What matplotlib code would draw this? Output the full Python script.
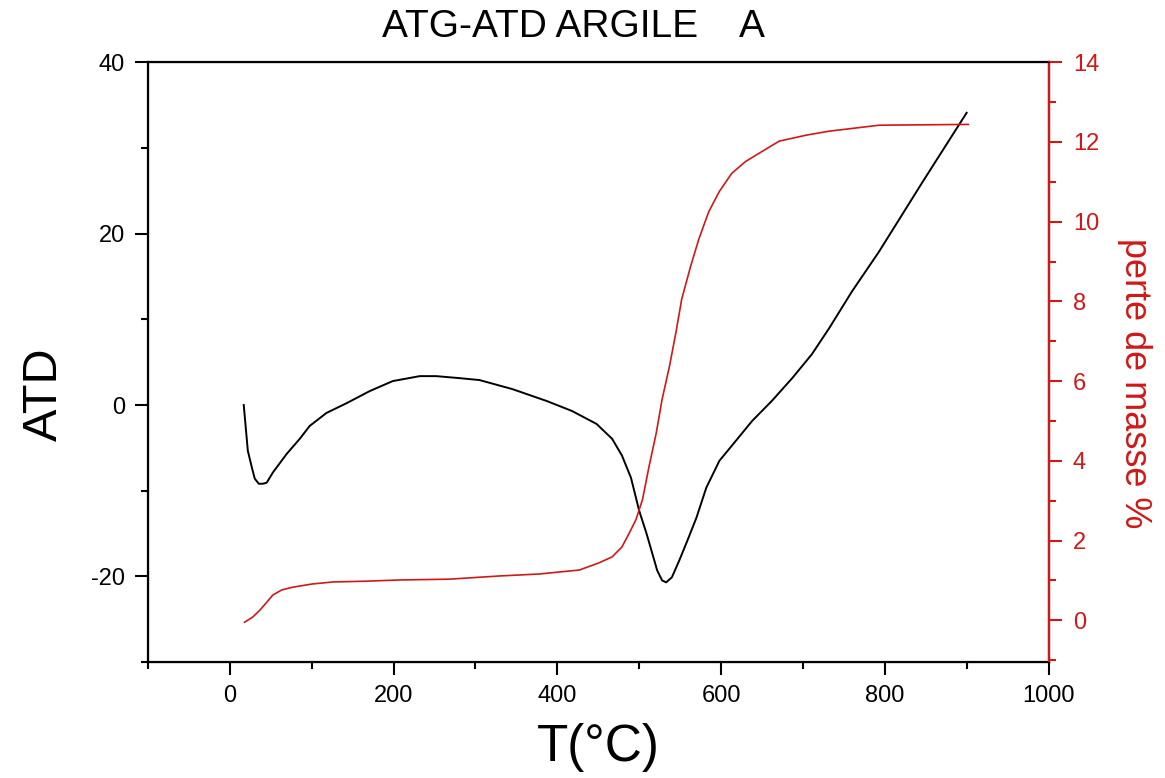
import matplotlib
matplotlib.use('Agg')
import matplotlib.pyplot as plt
from matplotlib.ticker import MultipleLocator

plt.rcParams['font.family'] = ['Liberation Sans', 'DejaVu Sans']
plt.rcParams['axes.unicode_minus'] = False

# ATD curve (black, left axis)
t_atd = [17, 19.5, 22, 27, 30.5, 35.4, 40.2, 45, 52.4, 69.5, 85.4, 97.6, 118, 143,
         171, 199, 232, 252, 280, 305, 345, 387, 418, 448, 467, 479,
         490, 500, 509, 515, 522, 528, 533, 540,
         549, 559, 570, 582, 598, 618, 638, 662, 687, 711, 732, 760, 793, 846, 900]
atd = [0.0, -2.67, -5.35, -7.33, -8.6, -9.19, -9.19, -9.07, -7.9, -5.7, -3.95, -2.44, -0.93, 0.23,
       1.63, 2.79, 3.37, 3.37, 3.14, 2.91, 1.86, 0.47, -0.70, -2.21, -3.95, -5.9,
       -8.49, -12.33, -15.0, -16.98, -19.3, -20.47, -20.7, -20.1,
       -18.14, -15.8, -13.14, -9.65, -6.51, -4.19, -1.86, 0.47, 3.14, 5.93, 8.95, 13.26, 17.9, 26.0, 34.1]

# perte de masse (red, right axis)
t_tg = [18, 28, 36.6, 45, 52.4, 63.4, 77, 101, 126, 167, 207, 268, 329, 378,
        427, 451, 467, 479, 488, 496, 504, 512, 521, 528, 537, 545, 552, 563,
        573, 585, 598, 613, 630, 650, 671, 704, 732, 793, 902]
perte = [-0.05, 0.08, 0.25, 0.45, 0.63, 0.76, 0.83, 0.91, 0.96, 0.98, 1.01, 1.03, 1.11, 1.16,
         1.26, 1.44, 1.59, 1.84, 2.19, 2.52, 3.02, 3.85, 4.71, 5.54, 6.37, 7.23, 8.06, 8.89,
         9.57, 10.25, 10.76, 11.21, 11.51, 11.76, 12.02, 12.17, 12.27, 12.42, 12.44]

red = '#d01818'

fig = plt.figure(figsize=(11.65, 7.78), dpi=100)
ax = fig.add_axes([0.127, 0.149, 0.773, 0.771])
ax.plot(t_atd, atd, color='black', lw=1.4)
ax.set_xlim(-100, 1000)
ax.set_ylim(-30, 40)
ax.xaxis.set_major_locator(MultipleLocator(200))
ax.xaxis.set_minor_locator(MultipleLocator(100))
ax.yaxis.set_major_locator(MultipleLocator(20))
ax.yaxis.set_minor_locator(MultipleLocator(10))
ax.tick_params(which='both', direction='out', labelsize=17, width=1.5, pad=7)
ax.tick_params(which='major', length=9.5)
ax.tick_params(which='minor', length=5)
for s in ax.spines.values():
    s.set_linewidth(1.6)
ax.set_xlabel('T(°C)', fontsize=37, va='center')
ax.xaxis.set_label_coords(0.5, -0.143)
ax.set_ylabel('ATD', fontsize=35, va='center')
ax.yaxis.set_label_coords(-0.115, 0.447)

ax2 = ax.twinx()
ax2.plot(t_tg, perte, color=red, lw=1.2)
ax2.set_ylim(-1.05, 14.0)
ax2.yaxis.set_major_locator(MultipleLocator(2))
ax2.yaxis.set_minor_locator(MultipleLocator(1))
ax2.tick_params(axis='y', which='both', direction='out', colors=red, labelsize=17, width=1.5, pad=8)
ax2.tick_params(which='major', length=9.5)
ax2.tick_params(which='minor', length=5)
ax2.spines['right'].set_color(red)
ax2.spines['right'].set_linewidth(1.6)
ax2.set_ylabel('perte de masse %', fontsize=26, color=red, rotation=-90, va='center')
ax2.yaxis.set_label_coords(1.096, 0.465)

fig.text(0.492, 0.9524, 'ATG-ATD ARGILE    A', fontsize=28, ha='center', va='baseline')

fig.savefig('out.png', dpi=100)
